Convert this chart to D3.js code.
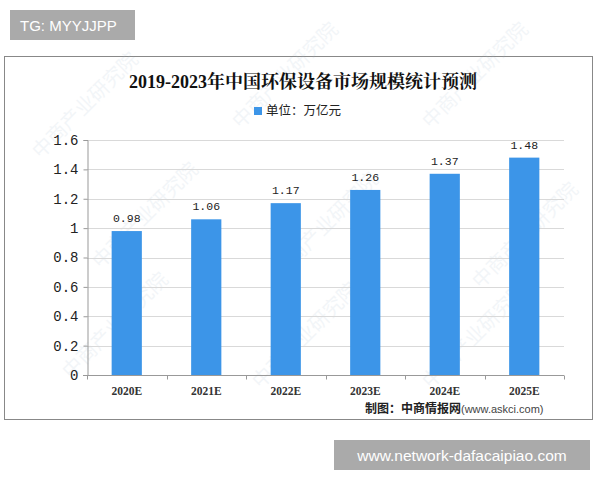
<!DOCTYPE html>
<html>
<head>
<meta charset="utf-8">
<script src="https://cdn.jsdelivr.net/npm/d3@7"></script>
<style>
  body { margin: 0; background: #fff; }
  svg { display: block; }
</style>
</head>
<body>
<div id="chart"></div>
<script>
// chart data
var years = ['2020E', '2021E', '2022E', '2023E', '2024E', '2025E'];
var marketSize = [0.98, 1.06, 1.17, 1.26, 1.37, 1.48];
var yTicks = [0, 0.2, 0.4, 0.6, 0.8, 1, 1.2, 1.4, 1.6];

var width = 600, height = 480;
var plot = { left: 87, right: 564, top: 140, bottom: 375 };

var svg = d3.select('#chart').append('svg')
    .attr('width', width)
    .attr('height', height);

// top badge
svg.append('rect')
    .attr('x', 10).attr('y', 10).attr('width', 125).attr('height', 30)
    .style('fill', '#aaaaaa');
svg.append('text')
    .attr('x', 20).attr('y', 31)
    .style('font-family', 'Liberation Sans, Arial, sans-serif')
    .style('font-size', '15px')
    .style('fill', '#fff')
    .text('TG: MYYJJPP');

// chart frame
svg.append('rect')
    .attr('x', 4.5).attr('y', 56.5).attr('width', 588).attr('height', 363)
    .style('fill', '#fff')
    .style('stroke', '#888')
    .style('stroke-width', 1);

// faint watermarks
var marks = [[90, 110], [290, 80], [480, 80], [150, 220], [330, 230], [530, 240], [120, 330], [310, 340], [480, 340]];
marks.forEach(function(m) {
    svg.append('text')
        .attr('transform', 'translate(' + m[0] + ',' + m[1] + ') rotate(-45)')
        .style('font-family', 'Noto Sans CJK SC, sans-serif')
        .style('font-size', '20px')
        .style('fill', '#9fb8cc')
        .style('opacity', 0.13)
        .attr('text-anchor', 'middle')
        .text('中商产业研究院');
});

// title
svg.append('text')
    .attr('x', 303).attr('y', 88)
    .attr('text-anchor', 'middle')
    .style('font-family', 'Liberation Serif, Noto Serif CJK SC, Noto Sans CJK SC, serif')
    .style('font-weight', 'bold')
    .style('font-size', '18px')
    .style('fill', '#111')
    .text('2019-2023年中国环保设备市场规模统计预测');

// legend
svg.append('rect')
    .attr('x', 254).attr('y', 107).attr('width', 8).attr('height', 8)
    .style('fill', '#3c95e8');
svg.append('text')
    .attr('x', 266).attr('y', 115)
    .style('font-family', 'Noto Sans CJK SC, sans-serif')
    .style('font-size', '12.5px')
    .style('fill', '#222')
    .text('单位：万亿元');

var x = d3.scaleBand()
    .domain(years)
    .range([plot.left, plot.right])
    .paddingInner(0.62)
    .paddingOuter(0.31);

var y = d3.scaleLinear()
    .domain([0, 1.6])
    .range([plot.bottom, plot.top]);

// gridlines
svg.append('g')
    .selectAll('line')
    .data(yTicks.slice(1))
    .enter()
    .append('line')
    .attr('x1', plot.left).attr('x2', plot.right)
    .attr('y1', function(d) { return Math.round(y(d)) + 0.5; })
    .attr('y2', function(d) { return Math.round(y(d)) + 0.5; })
    .style('stroke', '#d9d9d9');

// bars
svg.append('g')
    .selectAll('rect')
    .data(marketSize)
    .enter()
    .append('rect')
    .attr('x', function(d, i) { return x(years[i]); })
    .attr('y', function(d) { return y(d); })
    .attr('width', x.bandwidth())
    .attr('height', function(d) { return y(0) - y(d); })
    .style('fill', '#3c95e8');

// value labels
svg.append('g')
    .selectAll('text')
    .data(marketSize)
    .enter()
    .append('text')
    .attr('x', function(d, i) { return x(years[i]) + x.bandwidth() / 2; })
    .attr('y', function(d) { return y(d) - 9; })
    .attr('text-anchor', 'middle')
    .style('font-family', 'Liberation Mono, monospace')
    .style('font-size', '11.5px')
    .style('fill', '#222')
    .text(function(d) { return d.toFixed(2); });

// y axis
var yAxis = d3.axisLeft(y)
    .tickValues(yTicks)
    .tickSize(4)
    .tickFormat(function(d) { return String(d); });
var gy = svg.append('g')
    .attr('transform', 'translate(' + (plot.left + 0.5) + ',0)')
    .call(yAxis);
gy.select('.domain').style('stroke', '#999');
gy.selectAll('.tick line').style('stroke', '#999');
gy.selectAll('.tick text')
    .attr('x', -9)
    .style('font-family', 'Liberation Mono, monospace')
    .style('font-size', '14px')
    .style('fill', '#222');

// x axis with ticks at band edges
var gx = svg.append('g')
    .attr('transform', 'translate(0,' + (plot.bottom + 0.5) + ')');
gx.append('line')
    .attr('x1', plot.left - 4).attr('x2', plot.right)
    .style('stroke', '#999');
var step = x.step();
gx.selectAll('.edge')
    .data(d3.range(years.length + 1))
    .enter()
    .append('line')
    .attr('class', 'edge')
    .attr('x1', function(i) { return Math.round(plot.left + i * step) + 0.5; })
    .attr('x2', function(i) { return Math.round(plot.left + i * step) + 0.5; })
    .attr('y1', 0).attr('y2', 4)
    .style('stroke', '#999');
gx.selectAll('.lbl')
    .data(years)
    .enter()
    .append('text')
    .attr('class', 'lbl')
    .attr('x', function(d) { return x(d) + x.bandwidth() / 2; })
    .attr('y', 19)
    .attr('text-anchor', 'middle')
    .style('font-family', 'Liberation Serif, serif')
    .style('font-weight', 'bold')
    .style('font-size', '11.5px')
    .style('fill', '#333')
    .text(function(d) { return d; });

// source note
var src = svg.append('text')
    .attr('x', 365).attr('y', 413)
    .style('fill', '#222');
src.append('tspan')
    .style('font-family', 'Noto Sans CJK SC, sans-serif')
    .style('font-weight', 'bold')
    .style('font-size', '12px')
    .text('制图：中商情报网');
src.append('tspan')
    .style('font-family', 'Liberation Sans, Arial, sans-serif')
    .style('font-size', '11px')
    .style('fill', '#444')
    .text('(www.askci.com)');

// bottom badge
svg.append('rect')
    .attr('x', 334).attr('y', 440).attr('width', 256).attr('height', 30)
    .style('fill', '#aaaaaa');
svg.append('text')
    .attr('x', 462).attr('y', 461)
    .attr('text-anchor', 'middle')
    .style('font-family', 'Liberation Sans, Arial, sans-serif')
    .style('font-size', '15.5px')
    .style('fill', '#fff')
    .text('www.network-dafacaipiao.com');
</script>
</body>
</html>
